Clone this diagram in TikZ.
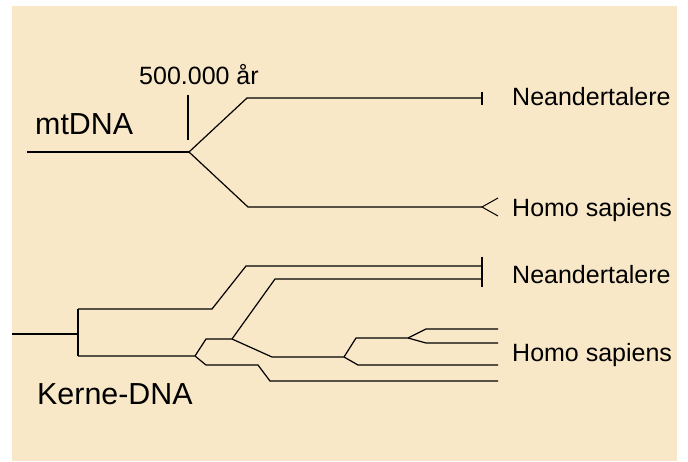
\documentclass[tikz,border=0pt]{standalone}
\usepackage{fontspec}
\setmainfont{Liberation Sans}
\definecolor{bgbeige}{RGB}{249,232,199}
\begin{document}
\begin{tikzpicture}[x=1pt,y=-1pt,
  branch/.style={line width=1.2pt,line join=miter,black},
  smalllabel/.style={anchor=base west,inner sep=0pt,font=\fontsize{25}{30}\selectfont},
  biglabel/.style={anchor=base west,inner sep=0pt,font=\fontsize{30.4}{36}\selectfont}]
\useasboundingbox (0,0) rectangle (688,461);
\fill[bgbeige] (12,6) rectangle (677,461);

% ---------- mtDNA tree ----------
\coordinate (mroot) at (27,152);
\coordinate (mj) at (189,152);
\coordinate (mup) at (247,98);
\coordinate (mupend) at (482,98);
\coordinate (mlo) at (248,207);
\coordinate (mloend) at (482,207);
\coordinate (tickA) at (188,95);
\coordinate (tickB) at (188,140);
\draw[branch] (mroot) -- (mj);
\draw[branch] (mj) -- (mup) -- (mupend);
\draw[branch] (mj) -- (mlo) -- (mloend);
\draw[branch] (tickA) -- (tickB);
\draw[branch] ([yshift=-6.5]mupend) -- ([yshift=6.5]mupend);
\draw[branch,line width=1pt] ([shift={(16,-9)}]mloend) -- (mloend) -- ([shift={(16,9)}]mloend);

\node[smalllabel] (age) at (139,84) {500.000 år};
\node[biglabel] (mt) at (35,134.3) {mtDNA};
\node[smalllabel] (mn) at (512,105.5) {Neandertalere};
\node[smalllabel] (mh) at (512,216) {Homo sapiens};

% ---------- Kerne-DNA tree ----------
\coordinate (kroot) at (12,334);
\coordinate (kj) at (78,334);
\coordinate (ktop) at (78,309);
\coordinate (kbot) at (78,356);
\coordinate (n1a) at (212,309);
\coordinate (n1b) at (246,266);
\coordinate (n1end) at (482,266);
\coordinate (f1) at (195,356);
\coordinate (f1u) at (206,339);
\coordinate (f2) at (232,339);
\coordinate (n2b) at (275,279);
\coordinate (n2end) at (482,279);
\coordinate (f1d) at (206,365);
\coordinate (o1) at (258,365);
\coordinate (o2) at (270,381);
\coordinate (o3) at (498,381);
\coordinate (h1) at (272,357);
\coordinate (f3) at (344,357);
\coordinate (f3u) at (356,338);
\coordinate (f4) at (408,338);
\coordinate (f3d) at (358,365);
\coordinate (h3end) at (498,365);
\coordinate (f4u) at (426,329);
\coordinate (h1end) at (498,329);
\coordinate (f4d) at (426,343);
\coordinate (h2end) at (498,343);

\draw[branch] (kroot) -- (kj);
\draw[branch] (ktop) -- (kbot);
\draw[branch] (ktop) -- (n1a) -- (n1b) -- (n1end);
\draw[branch] (kbot) -- (f1) -- (f1u) -- (f2) -- (n2b) -- (n2end);
\draw[branch] (f1) -- (f1d) -- (o1) -- (o2) -- (o3);
\draw[branch] (f2) -- (h1) -- (f3) -- (f3u) -- (f4) -- (f4u) -- (h1end);
\draw[branch] (f4) -- (f4d) -- (h2end);
\draw[branch] (f3) -- (f3d) -- (h3end);
\draw[branch] (482,256.5) -- (482,286.5);

\node[smalllabel] (kn) at (512,283) {Neandertalere};
\node[smalllabel] (kh) at (512,361.5) {Homo sapiens};
\node[biglabel] (kd) at (37,404.3) {Kerne-DNA};
\end{tikzpicture}
\end{document}
